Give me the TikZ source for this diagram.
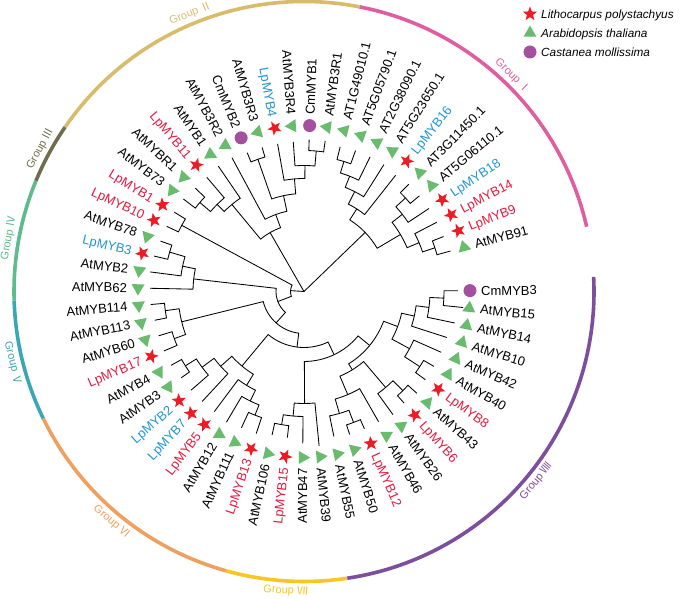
\documentclass[tikz,border=0pt]{standalone}
\usepackage{fontspec}
\setmainfont{Liberation Sans}
\newfontfamily\numfont{Noto Sans CJK SC}
\usetikzlibrary{shapes.geometric}
\definecolor{lpred}{HTML}{ED1C24}
\definecolor{lptxt}{HTML}{E6193F}
\definecolor{lpblue}{HTML}{1F96D3}
\definecolor{atgreen}{HTML}{69BB6E}
\definecolor{cmpurple}{HTML}{A4509F}
\definecolor{gI}{HTML}{DF5E9F}
\definecolor{gII}{HTML}{D8BC6C}
\definecolor{gIII}{HTML}{6E6E4E}
\definecolor{gIV}{HTML}{5DBB8E}
\definecolor{gV}{HTML}{3AA8B4}
\definecolor{gVI}{HTML}{F0A05E}
\definecolor{gVII}{HTML}{F6C624}
\definecolor{gVIII}{HTML}{7C4E9B}
\tikzset{
 branch/.style={line width=0.85pt, black},
 mkLp/.style={star, star points=5, star point ratio=2.4, fill=lpred, draw=none, inner sep=0pt, minimum size=15pt},
 mkAt/.style={regular polygon, regular polygon sides=3, fill=atgreen, draw=none, inner sep=0pt, minimum size=15pt},
 mkCm/.style={circle, fill=cmpurple, draw=none, inner sep=0pt, minimum size=13pt},
 lbl/.style={inner sep=0pt, font=\fontsize{13}{15}\selectfont, text height=9.3pt, text depth=0pt},
 grp/.style={line width=3.6pt},
 glbl/.style={inner sep=0pt, font=\fontsize{11}{13}\selectfont},
 leg/.style={inner sep=0pt, font=\fontsize{11.8}{14}\selectfont\itshape, text height=8.4pt, text depth=0pt, anchor=west},
}
\newcommand\tleaf[6]{%
  \pgfmathsetmacro\tAng{0.3-6.05*#2}%
  \expandafter\xdef\csname tAng@#1\endcsname{\tAng}%
  \coordinate (#1) at (\tAng:#3);%
  \node[#4, rotate=\tAng] (#1-m) at (\tAng:166) {};%
  \pgfmathtruncatemacro\tRight{(\tAng>-90 || \tAng<-270) ? 1 : 0}%
  \ifnum\tRight=1
    \node[lbl, text=#6, rotate=\tAng, anchor=west] (#1-t) at (\tAng:177) {#5};%
  \else
    \pgfmathsetmacro\tRot{\tAng+180}%
    \node[lbl, text=#6, rotate=\tRot, anchor=east] (#1-t) at (\tAng:177) {#5};%
  \fi
}
\newcommand\tnode[4]{%
  \pgfmathsetmacro\tAngA{\csname tAng@#2\endcsname}%
  \pgfmathsetmacro\tAngB{\csname tAng@#3\endcsname}%
  \pgfmathsetmacro\tAngM{(\tAngA+\tAngB)/2}%
  \expandafter\xdef\csname tAng@#1\endcsname{\tAngM}%
  \coordinate (#1) at (\tAngM:#4);%
  \coordinate (#1-a) at (\tAngA:#4);%
  \coordinate (#1-b) at (\tAngB:#4);%
  \draw[branch] (#2) -- (#1-a) arc[start angle=\tAngA, end angle=\tAngB, radius=#4] -- (#3);%
}
\begin{document}
\begin{tikzpicture}[x=1pt,y=1pt]
\useasboundingbox (-304,-307.5) rectangle (381,291.5);
% leaves
\tleaf{L0}{0}{154}{mkCm}{CmMYB3}{black}
\tleaf{L1}{1}{160}{mkAt}{AtMYB15}{black}
\tleaf{L2}{2}{154}{mkAt}{AtMYB14}{black}
\tleaf{L3}{3}{150}{mkAt}{AtMYB10}{black}
\tleaf{L4}{4}{150}{mkAt}{AtMYB42}{black}
\tleaf{L5}{5}{150}{mkAt}{AtMYB40}{black}
\tleaf{L6}{6}{150}{mkLp}{LpMYB8}{lptxt}
\tleaf{L7}{7}{152}{mkAt}{AtMYB43}{black}
\tleaf{L8}{8}{150}{mkLp}{LpMYB6}{lptxt}
\tleaf{L9}{9}{152}{mkAt}{AtMYB26}{black}
\tleaf{L10}{10}{150}{mkAt}{AtMYB46}{black}
\tleaf{L11}{11}{150}{mkLp}{LpMYB12}{lptxt}
\tleaf{L12}{12}{150}{mkAt}{AtMYB50}{black}
\tleaf{L13}{13}{148}{mkAt}{AtMYB55}{black}
\tleaf{L14}{14}{155}{mkAt}{AtMYB39}{black}
\tleaf{L15}{15}{152}{mkAt}{AtMYB47}{black}
\tleaf{L16}{16}{147}{mkLp}{LpMYB15}{lptxt}
\tleaf{L17}{17}{147}{mkAt}{AtMYB106}{black}
\tleaf{L18}{18}{150}{mkLp}{LpMYB13}{lptxt}
\tleaf{L19}{19}{150}{mkAt}{AtMYB111}{black}
\tleaf{L20}{20}{152}{mkAt}{AtMYB12}{black}
\tleaf{L21}{21}{150}{mkLp}{LpMYB5}{lptxt}
\tleaf{L22}{22}{150}{mkLp}{LpMYB7}{lpblue}
\tleaf{L23}{23}{150}{mkLp}{LpMYB2}{lpblue}
\tleaf{L24}{24}{150}{mkAt}{AtMYB3}{black}
\tleaf{L25}{25}{152}{mkAt}{AtMYB4}{black}
\tleaf{L26}{26}{152}{mkLp}{LpMYB17}{lptxt}
\tleaf{L27}{27}{152}{mkAt}{AtMYB60}{black}
\tleaf{L28}{28}{152}{mkAt}{AtMYB113}{black}
\tleaf{L29}{29}{154}{mkAt}{AtMYB114}{black}
\tleaf{L30}{30}{154}{mkAt}{AtMYB62}{black}
\tleaf{L31}{31}{155}{mkAt}{AtMYB2}{black}
\tleaf{L32}{32}{154}{mkLp}{LpMYB3}{lpblue}
\tleaf{L33}{33}{152}{mkAt}{AtMYB78}{black}
\tleaf{L34}{34}{152}{mkLp}{LpMYB10}{lptxt}
\tleaf{L35}{35}{152}{mkLp}{LpMYB1}{lptxt}
\tleaf{L36}{36}{152}{mkAt}{AtMYB73}{black}
\tleaf{L37}{37}{150}{mkAt}{AtMYBR1}{black}
\tleaf{L38}{38}{150}{mkLp}{LpMYB11}{lptxt}
\tleaf{L39}{39}{152}{mkAt}{AtMYB1}{black}
\tleaf{L40}{40}{152}{mkAt}{AtMYB3R2}{black}
\tleaf{L41}{41}{150}{mkCm}{CmMYB2}{black}
\tleaf{L42}{42}{150}{mkAt}{AtMYB3R3}{black}
\tleaf{L43}{43}{150}{mkLp}{LpMYB4}{lpblue}
\tleaf{L44}{44}{150}{mkAt}{AtMYB3R4}{black}
\tleaf{L45}{45}{152}{mkCm}{CmMYB1}{black}
\tleaf{L46}{46}{152}{mkAt}{AtMYB3R1}{black}
\tleaf{L47}{47}{149}{mkAt}{AT1G49010.1}{black}
\tleaf{L48}{48}{150}{mkAt}{AT5G05790.1}{black}
\tleaf{L49}{49}{150}{mkAt}{AT2G38090.1}{black}
\tleaf{L50}{50}{150}{mkAt}{AT5G23650.1}{black}
\tleaf{L51}{51}{148}{mkLp}{LpMYB16}{lpblue}
\tleaf{L52}{52}{150}{mkAt}{AT3G11450.1}{black}
\tleaf{L53}{53}{150}{mkAt}{AT5G06110.1}{black}
\tleaf{L54}{54}{150}{mkLp}{LpMYB18}{lpblue}
\tleaf{L55}{55}{150}{mkLp}{LpMYB14}{lptxt}
\tleaf{L56}{56}{150}{mkLp}{LpMYB9}{lptxt}
\tleaf{L57}{57}{152}{mkAt}{AtMYB91}{black}
% internal nodes
\tnode{A1}{L0}{L1}{140}
\tnode{A2}{A1}{L2}{126}
\tnode{A3}{A2}{L3}{113}
\tnode{B1}{L5}{L6}{138}
\tnode{B2}{L4}{B1}{120}
\tnode{G8a}{A3}{B2}{100}
\tnode{C1}{L7}{L8}{140}
\tnode{C2}{C1}{L9}{126}
\tnode{D1}{L11}{L12}{140}
\tnode{D2}{D1}{L13}{127}
\tnode{D3}{L10}{D2}{112}
\tnode{G8b}{C2}{D3}{92}
\tnode{G8}{G8a}{G8b}{85}
\tnode{E1}{L16}{L17}{135}
\tnode{E2}{E1}{L15}{125}
\tnode{G7}{E2}{L14}{112}
\tnode{Q}{G7}{G8}{70}
\tnode{F1}{L18}{L19}{133}
\tnode{F2}{F1}{L20}{122}
\tnode{G6b}{F2}{L21}{110}
\tnode{H1}{L24}{L25}{140}
\tnode{H2}{L23}{H1}{127}
\tnode{G6a}{L22}{H2}{112}
\tnode{G6}{G6a}{G6b}{97}
\tnode{Z}{G6}{Q}{56}
\tnode{V1}{L29}{L28}{140}
\tnode{V2}{L27}{L26}{138}
\tnode{G5}{V1}{V2}{126}
\tnode{W}{G5}{Z}{42}
\tnode{I1}{L33}{L32}{140}
\tnode{I2}{I1}{L31}{124}
\tnode{G4}{I2}{L30}{111}
\tnode{Y}{G4}{W}{28}
\tnode{G3}{L34}{L35}{139}
\tnode{X}{G3}{Y}{13.5}
\tnode{J1}{L36}{L37}{137}
\tnode{J2}{J1}{L38}{123}
\tnode{G2a}{J2}{L39}{113}
\tnode{K1}{L45}{L46}{141}
\tnode{K2}{L44}{K1}{126}
\tnode{K3}{L43}{K2}{113}
\tnode{K4}{L41}{L42}{140}
\tnode{K5}{K4}{K3}{98}
\tnode{G2b}{L40}{K5}{82}
\tnode{G2}{G2a}{G2b}{68}
\tnode{M1}{L47}{L48}{136}
\tnode{M2}{M1}{L49}{124}
\tnode{M3}{M2}{L50}{112}
\tnode{GIa}{M3}{L51}{98}
\tnode{N1}{L52}{L53}{138}
\tnode{N2}{N1}{L54}{125}
\tnode{N3}{L56}{L57}{138}
\tnode{N4}{L55}{N3}{125}
\tnode{GIb}{N2}{N4}{112}
\tnode{GI}{GIa}{GIb}{85}
\coordinate (root) at (0,0);
\draw[branch] (root) -- (GI);
\draw[branch] (root) -- (G2);
\draw[branch] (root) -- (X);
% group arcs
\draw[grp, gI] (78.97:290) arc[start angle=78.97, end angle=12.9, radius=290];
\draw[grp, gII] (145.5:290) arc[start angle=145.5, end angle=78.97, radius=290];
\draw[grp, gIII] (157.6:290) arc[start angle=157.6, end angle=145.5, radius=290];
\draw[grp, gIV] (181.8:290) arc[start angle=181.8, end angle=157.6, radius=290];
\draw[grp, gV] (206:290) arc[start angle=206, end angle=181.8, radius=290];
\draw[grp, gVI] (254.4:290) arc[start angle=254.4, end angle=206, radius=290];
\draw[grp, gVII] (278.6:290) arc[start angle=278.6, end angle=254.4, radius=290];
\draw[grp, gVIII] (362.9:290) arc[start angle=362.9, end angle=278.6, radius=290];
% group labels
\node[glbl, text=gI, rotate=-44.1] (gIt) at (45.9:300) {Group {\numfont Ⅰ}};
\node[glbl, text=gII, rotate=22.2] (gIIt) at (112.2:300) {Group {\numfont Ⅱ}};
\node[glbl, text=gIII, rotate=61.55] (gIIIt) at (151.55:300) {Group {\numfont Ⅲ}};
\node[glbl, text=gIV, rotate=79.7] (gIVt) at (169.7:300) {Group {\numfont Ⅳ}};
\node[glbl, text=gV, rotate=283.9] (gVt) at (193.9:300) {Group {\numfont Ⅴ}};
\node[glbl, text=gVI, rotate=320.2] (gVIt) at (230.2:300) {Group {\numfont Ⅵ}};
\node[glbl, text=gVII, rotate=356.5] (gVIIt) at (266.5:300) {Group {\numfont Ⅶ}};
\node[glbl, text=gVIII, rotate=50.75] (gVIIIt) at (-39.25:300) {Group {\numfont Ⅷ}};
% legend
\node[mkLp] (legLp) at (226,277.5) {};
\node[mkAt] (legAt) at (226,258.5) {};
\node[mkCm] (legCm) at (226,239.5) {};
\node[leg] (legLpT) at (237,277.5) {Lithocarpus polystachyus};
\node[leg] (legAtT) at (237,258.5) {Arabidopsis thaliana};
\node[leg] (legCmT) at (237,239.5) {Castanea mollissima};
\end{tikzpicture}
\end{document}
